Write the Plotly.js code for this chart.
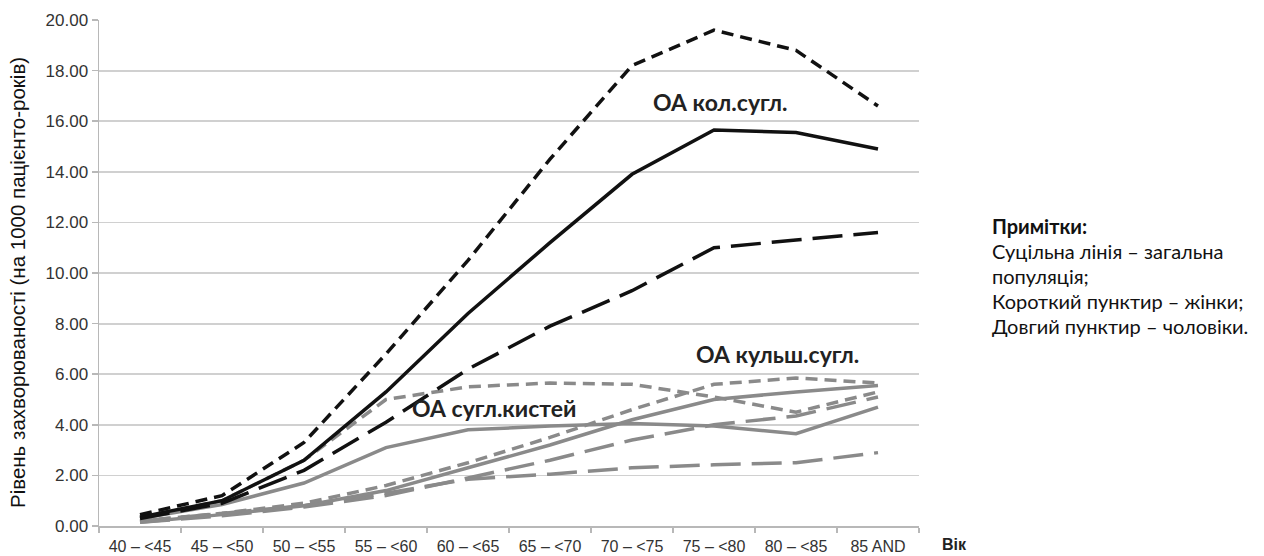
<!DOCTYPE html>
<html>
<head>
<meta charset="utf-8">
<script src="https://cdn.plot.ly/plotly-3.0.1.min.js"></script>
<style>
html,body{margin:0;padding:0;background:#fff;}
#chart{width:1264px;height:556px;}
</style>
</head>
<body>
<div id="chart"></div>
<script>
const ages = ['40 – <45','45 – <50','50 – <55','55 – <60','60 – <65','65 – <70','70 – <75','75 – <80','80 – <85','85 AND'];

const kneeWomen = [0.45, 1.2, 3.3, 6.8, 10.5, 14.5, 18.2, 19.6, 18.8, 16.6];
const kneeTotal = [0.35, 1.0, 2.6, 5.3, 8.4, 11.2, 13.9, 15.65, 15.55, 14.9];
const kneeMen   = [0.3, 0.9, 2.2, 4.1, 6.2, 7.9, 9.3, 11.0, 11.3, 11.6];

const handWomen = [0.35, 1.0, 2.6, 5.0, 5.5, 5.65, 5.6, 5.1, 4.5, 5.3];
const handTotal = [0.3, 0.85, 1.7, 3.1, 3.8, 3.95, 4.05, 3.95, 3.65, 4.7];
const handMen   = [0.2, 0.5, 0.8, 1.3, 1.85, 2.05, 2.3, 2.42, 2.5, 2.9];

const hipWomen  = [0.2, 0.5, 0.9, 1.6, 2.5, 3.5, 4.6, 5.6, 5.85, 5.65];
const hipTotal  = [0.15, 0.45, 0.8, 1.4, 2.3, 3.2, 4.2, 5.0, 5.3, 5.55];
const hipMen    = [0.15, 0.4, 0.75, 1.2, 1.9, 2.6, 3.4, 4.0, 4.35, 5.1];

const yTicks = [0, 2, 4, 6, 8, 10, 12, 14, 16, 18, 20];

const noteLines = ['<b>Примітки:</b>', 'Суцільна лінія – загальна', 'популяція;', 'Короткий пунктир – жінки;', 'Довгий пунктир – чоловіки.'];

const BLACK = '#111111';
const GREY = '#8a8a8a';
const SHORT = '12px,7px';
const LONG = '30px,11px';

function tr(y, color, dash) {
  return {x: ages, y: y, type: 'scatter', mode: 'lines',
    line: {color: color, width: 3.5, dash: dash}, hoverinfo: 'skip', showlegend: false};
}

const data = [
  tr(hipMen, GREY, LONG),
  tr(handMen, GREY, LONG),
  tr(hipTotal, GREY, 'solid'),
  tr(handTotal, GREY, 'solid'),
  tr(hipWomen, GREY, SHORT),
  tr(handWomen, GREY, SHORT),
  tr(kneeMen, BLACK, LONG),
  tr(kneeTotal, BLACK, 'solid'),
  tr(kneeWomen, BLACK, SHORT)
];

const L = 99, R = 345, T = 20, B = 30, W = 1264, H = 556;
const plotW = W - L - R, plotH = H - T - B;
const px = x => (x - L) / plotW;
const py = y => (H - B - y) / plotH;

const labelFont = {family: 'Lato, Carlito, Noto Sans, sans-serif', size: 23, color: '#222'};
const noteFont = {family: 'Lato, Carlito, Noto Sans, sans-serif', size: 20, color: '#111'};

const annotations = [
  {x: 7.08, y: 16.75, xref: 'x', yref: 'y', text: '<b>ОА кол.сугл.</b>', showarrow: false, font: labelFont},
  {x: 7.78, y: 6.8, xref: 'x', yref: 'y', text: '<b>ОА кульш.сугл.</b>', showarrow: false, font: labelFont},
  {x: 4.32, y: 4.65, xref: 'x', yref: 'y', text: '<b>ОА сугл.кистей</b>', showarrow: false, font: labelFont},
  {x: px(940), y: py(544), xref: 'paper', yref: 'paper', text: '<b>Вік</b>', showarrow: false,
    xanchor: 'left', yanchor: 'middle',
    font: {family: 'Liberation Sans, Arial, sans-serif', size: 16, color: '#222'}},
  {x: px(17), y: py(283), xref: 'paper', yref: 'paper', text: 'Рівень захворюваності (на 1000 пацієнто-років)',
    textangle: -90, showarrow: false, xanchor: 'center', yanchor: 'middle',
    font: {family: 'Liberation Sans, Arial, sans-serif', size: 20.5, color: '#111'}}
];
noteLines.forEach((t, i) => {
  annotations.push({x: px(990), y: py(226 + i * 25), xref: 'paper', yref: 'paper', text: t,
    showarrow: false, xanchor: 'left', yanchor: 'middle', font: noteFont});
});

const layout = {
  width: W, height: H,
  margin: {l: L, r: R, t: T, b: B},
  paper_bgcolor: '#fff', plot_bgcolor: '#fff',
  showlegend: false,
  xaxis: {
    type: 'category', range: [-0.5, 9.5],
    showgrid: false, showline: true, linecolor: '#b8b8b8', linewidth: 1.5,
    ticks: 'outside', tickson: 'boundaries', ticklen: 5, tickcolor: '#b8b8b8', tickwidth: 1.5,
    ticklabelstandoff: 5,
    tickfont: {family: 'Liberation Sans, Arial, sans-serif', size: 16, color: '#333'},
    zeroline: false
  },
  yaxis: {
    range: [0, 20], tickvals: yTicks, ticktext: yTicks.map(v => v.toFixed(2)),
    showgrid: true, gridcolor: '#d0d0d0', gridwidth: 1.8,
    showline: true, linecolor: '#b8b8b8', linewidth: 1.5,
    ticks: 'outside', ticklen: 6, tickcolor: '#b8b8b8', tickwidth: 1.5,
    tickfont: {family: 'Liberation Sans, Arial, sans-serif', size: 17, color: '#333'},
    zeroline: false
  },
  annotations: annotations
};

Plotly.newPlot('chart', data, layout, {displayModeBar: false, staticPlot: true});
</script>
</body>
</html>
